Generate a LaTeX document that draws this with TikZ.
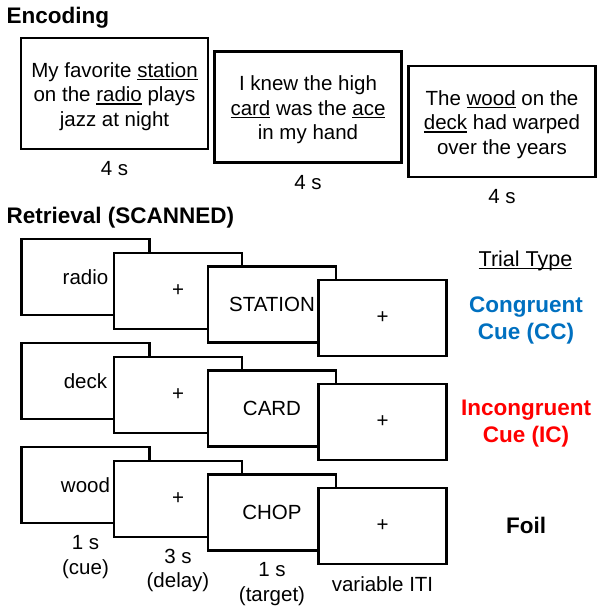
\documentclass[tikz,border=0pt]{standalone}
\usepackage{fontspec}
\setmainfont{Liberation Sans}
\usepackage{tikz}
\definecolor{ccblue}{RGB}{0,112,192}
\definecolor{icred}{RGB}{255,0,0}
\newsavebox{\uwordbox}
\newcommand{\uword}[1]{\sbox{\uwordbox}{#1}\rlap{\rule[-3pt]{\wd\uwordbox}{1.5pt}}\usebox{\uwordbox}}
\newcommand{\txtfont}{\fontsize{20.5}{24.5}\selectfont}
\newcommand{\hdrfont}{\bfseries\fontsize{22.5}{27}\selectfont}
\tikzset{
    encbox/.style={draw, line width=2.4pt, minimum width=187pt, minimum height=111pt, inner sep=0pt},
    enctext/.style={align=center, font=\txtfont, inner sep=0pt},
    scrbox/.style={draw, fill=white, line width=2.4pt, minimum width=128pt, minimum height=76pt, inner sep=0pt, font=\txtfont},
    lbl/.style={align=center, font=\txtfont, inner sep=0pt},
    hdr/.style={font=\hdrfont, inner sep=0pt, anchor=base west},
    ttype/.style={align=center, font=\hdrfont, inner sep=0pt},
}
\newcommand{\trialrow}[4]{
    \node[scrbox] (#1cue)    at (85.5,#2)      {#3};
    \node[scrbox] (#1delay)  at (178,#2+13.7)  {+};
    \node[scrbox] (#1target) at (272,#2+27.4)  {#4};
    \node[scrbox] (#1iti)    at (382.5,#2+41)  {+};
}
\begin{document}
\begin{tikzpicture}[x=1pt,y=-1pt]
    \useasboundingbox (0,0) rectangle (604,612);

    % encoding phase
    \node[hdr] (enchdr) at (6.5,24) {Encoding};

    \node[encbox] (enc1) at (114.5,93.5) {};
    \node[encbox] (enc2) at (308,107)    {};
    \node[encbox] (enc3) at (502,121.5)  {};

    \node[enctext] (enc1txt) at ([yshift=-3pt]enc1.center) {My favorite \uword{station}\\on the \uword{radio} plays\\jazz at night};
    \node[enctext] (enc2txt) at ([yshift=-3pt]enc2.center) {I knew the high\\\uword{card} was the \uword{ace}\\in my hand};
    \node[enctext] (enc3txt) at ([yshift=-3pt]enc3.center) {The \uword{wood} on the\\\uword{deck} had warped\\over the years};

    \node[lbl, below=11pt] (enc1t) at (enc1.south) {4 s};
    \node[lbl, below=11pt] (enc2t) at (enc2.south) {4 s};
    \node[lbl, below=11pt] (enc3t) at (enc3.south) {4 s};

    % retrieval phase
    \node[hdr] (rethdr) at (6.5,223) {Retrieval (SCANNED)};

    \trialrow{cc}{277}{radio}{STATION}
    \trialrow{ic}{381}{deck}{CARD}
    \trialrow{fo}{485}{wood}{CHOP}

    \node[lbl, below=11pt] (cuet)    at (focue.south)    {1 s\\(cue)};
    \node[lbl, below=11pt] (delayt)  at (fodelay.south)  {3 s\\(delay)};
    \node[lbl, below=11pt] (targett) at (fotarget.south) {1 s\\(target)};
    \node[lbl, below=11pt] (itit)    at (foiti.south)    {variable ITI};

    % trial types
    \node[lbl, anchor=base, font=\fontsize{21.5}{26}\selectfont] (ttype) at (525.5,266) {\uword{Trial Type}};
    \node[ttype, text=ccblue] (cclbl) at (526,320.5) {Congruent\\Cue (CC)};
    \node[ttype, text=icred]  (iclbl) at (526,423.5) {Incongruent\\Cue (IC)};
    \node[ttype, anchor=base] (folbl) at (526,533)   {Foil};
\end{tikzpicture}
\end{document}
